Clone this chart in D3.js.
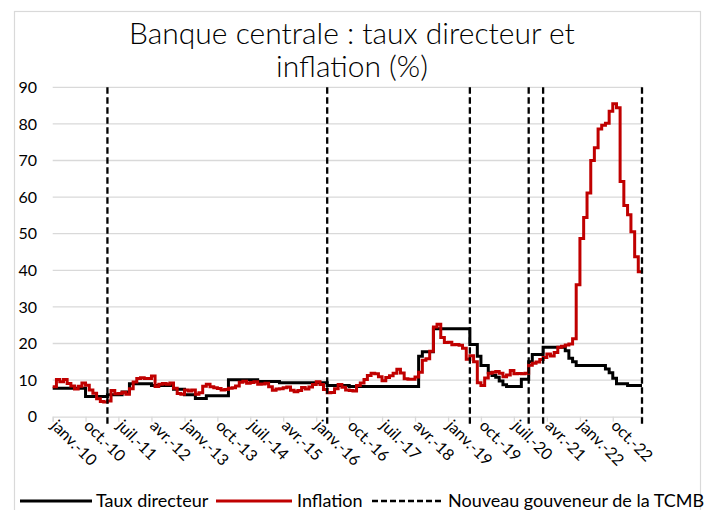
<!DOCTYPE html>
<html>
<head>
<meta charset="utf-8">
<script src="https://cdn.jsdelivr.net/npm/d3@7"></script>
<style>
  body { margin: 0; background: #fff; }
  svg { display: block; }
  text { font-family: Lato, "Open Sans", sans-serif; fill: #000; }
</style>
</head>
<body>
<div id="chart"></div>
<script>
// monthly series, first month = janv. 2010
const startYear = 2010;

// inflation (% y/y), one row per year
const inflation = [
  8.19, 10.13, 9.56, 10.19, 9.10, 8.37, 7.58, 8.33, 9.24, 8.62, 7.29, 6.40,
  4.90, 4.16, 3.99, 4.26, 7.17, 6.24, 6.31, 6.65, 6.15, 7.66, 9.48, 10.45,
  10.61, 10.43, 10.43, 11.14, 8.28, 8.87, 9.07, 8.88, 9.19, 7.80, 6.37, 6.16,
  7.31, 7.03, 7.29, 6.13, 6.51, 8.30, 8.88, 8.17, 7.88, 7.71, 7.32, 7.40,
  7.75, 7.89, 8.39, 9.38, 9.66, 9.16, 9.32, 9.54, 8.86, 8.96, 9.15, 8.17,
  7.24, 7.55, 7.61, 7.91, 8.09, 7.20, 6.81, 7.14, 7.95, 7.58, 8.10, 8.81,
  9.58, 8.78, 7.46, 6.57, 6.58, 7.64, 8.79, 8.05, 7.28, 7.16, 7.00, 8.53,
  9.22, 10.13, 11.29, 11.87, 11.72, 10.90, 9.79, 10.68, 11.20, 11.90, 12.98, 11.92,
  10.35, 10.26, 10.23, 10.85, 12.15, 15.39, 15.85, 17.90, 24.52, 25.24, 21.62, 20.30,
  20.35, 19.67, 19.71, 19.50, 18.71, 15.72, 16.65, 15.01, 9.26, 8.55, 10.56, 11.84,
  12.15, 12.37, 11.86, 10.94, 11.39, 12.62, 11.76, 11.77, 11.75, 11.89, 14.03, 14.60,
  14.97, 15.61, 16.19, 17.14, 16.59, 17.53, 18.95, 19.25, 19.58, 19.89, 21.31, 36.08,
  48.69, 54.44, 61.14, 69.97, 73.50, 78.62, 79.60, 80.21, 83.45, 85.51, 84.39, 64.27,
  57.68, 55.18, 50.51, 43.68, 39.59
];

// taux directeur (%), one row per year
const tauxDirecteur = [
  7.75, 7.75, 7.75, 7.75, 7.75, 7.75, 7.75, 7.75, 7.75, 5.5, 5.5, 5.5,
  5.5, 5.5, 5.5, 6, 6, 6, 6, 6.75, 6.75, 9, 9, 9,
  9, 9, 9, 8.5, 8.5, 8.5, 8.5, 8.5, 8.5, 7.5, 7.5, 7.5,
  6, 6, 6, 5, 5, 5, 5.75, 5.75, 5.75, 5.75, 5.75, 5.75,
  10.1, 10.1, 10.1, 10.1, 10.1, 10.1, 10.1, 10.1, 9.6, 9.6, 9.6, 9.6,
  9.6, 9.6, 9.25, 9.25, 9.25, 9.25, 9.25, 9.25, 9.25, 9.25, 9.25, 9.25,
  9.25, 9.25, 9.25, 8.5, 8.5, 8.5, 8.5, 8.5, 8.5, 8.25, 8.25, 8.25,
  8.25, 8.25, 8.25, 8.25, 8.25, 8.25, 8.25, 8.25, 8.25, 8.25, 8.25, 8.25,
  8.25, 8.25, 8.25, 8.25, 16.5, 17.75, 17.75, 17.75, 24, 24, 24, 24,
  24, 24, 24, 24, 24, 24, 19.75, 19.75, 16.5, 14, 14, 12,
  11.25, 10.75, 9.75, 8.75, 8.25, 8.25, 8.25, 8.25, 10.25, 10.25, 15, 17,
  17, 17, 19, 19, 19, 19, 19, 19, 18, 16, 15, 14,
  14, 14, 14, 14, 14, 14, 14, 13, 12, 10.5, 9, 9,
  9, 8.5, 8.5, 8.5, 8.5
];

// nouveau gouverneur de la TCMB (mois)
const gouverneurs = ['2011-04', '2016-04', '2019-07', '2020-11', '2021-03', '2023-06'];

const tickLabels = ['janv.-10', 'oct.-10', 'juil.-11', 'avr.-12', 'janv.-13', 'oct.-13',
  'juil.-14', 'avr.-15', 'janv.-16', 'oct.-16', 'juil.-17', 'avr.-18', 'janv.-19',
  'oct.-19', 'juil.-20', 'avr.-21', 'janv.-22', 'oct.-22'];
const yTicks = [0, 10, 20, 30, 40, 50, 60, 70, 80, 90];

const titleLines = ['Banque centrale : taux directeur et', 'inflation (%)'];
const legendLabels = ['Taux directeur', 'Inflation', 'Nouveau gouveneur de la TCMB'];

const width = 707, height = 510;
const month = i => new Date(Date.UTC(startYear, i, 1));
const parseMonth = s => { const [y, m] = s.split('-').map(Number); return new Date(Date.UTC(y, m - 1, 1)); };

const x = d3.scaleUtc()
    .domain([month(0), month(inflation.length)])
    .range([52.7, 642]);
const y = d3.scaleLinear()
    .domain([0, 90])
    .range([416.7, 87.3]);

const svg = d3.select('#chart').append('svg')
    .attr('width', width)
    .attr('height', height);

svg.append('rect')
    .attr('width', width).attr('height', height)
    .attr('fill', '#fff');

// chart border
svg.append('rect')
    .attr('x', 14.5).attr('y', 11.5)
    .attr('width', 686).attr('height', 540)
    .attr('fill', 'none')
    .attr('stroke', '#d9d9d9')
    .attr('stroke-width', 1.2);

// title
svg.append('text')
    .attr('text-anchor', 'middle')
    .style('font-size', '30px')
    .style('font-weight', 300)
  .selectAll('tspan')
  .data(titleLines)
  .join('tspan')
    .attr('x', 352)
    .attr('y', (d, i) => 44 + i * 33)
    .text(d => d);

// gridlines
svg.append('g')
  .selectAll('line')
  .data(yTicks.filter(d => d > 0))
  .join('line')
    .attr('x1', x.range()[0]).attr('x2', x.range()[1])
    .attr('y1', d => y(d)).attr('y2', d => y(d))
    .attr('stroke', '#d9d9d9')
    .attr('stroke-width', 1.3);

// y labels
svg.append('g')
  .selectAll('text')
  .data(yTicks)
  .join('text')
    .attr('x', 37)
    .attr('y', d => y(d))
    .attr('dy', '0.36em')
    .attr('text-anchor', 'end')
    .style('font-size', '16px')
    .text(d => d);

// x axis
const tickDates = tickLabels.map((d, i) => month(i * 9));
const xAxis = d3.axisBottom(x)
    .tickValues(tickDates)
    .tickSize(5)
    .tickFormat((d, i) => tickLabels[i]);

const gx = svg.append('g')
    .attr('transform', `translate(0,${y(0)})`)
    .call(xAxis);
gx.select('.domain').attr('stroke', '#d9d9d9').attr('stroke-width', 1.3);
gx.selectAll('.tick line').attr('stroke', '#d9d9d9').attr('stroke-width', 1.3);
gx.selectAll('.tick text')
    .attr('fill', '#000')
    .style('font-size', '16px')
    .style('font-family', 'Lato, sans-serif')
    .attr('text-anchor', 'start')
    .attr('y', 0).attr('dy', 0)
    .attr('transform', 'translate(-3,10) rotate(45)');

// series
const line = d3.line()
    .x(d => x(d.date))
    .y(d => y(d.value))
    .curve(d3.curveStepAfter);

const toSeries = values => {
  const s = values.map((v, i) => ({ date: month(i), value: v }));
  s.push({ date: month(values.length), value: values[values.length - 1] });
  return s;
};

svg.append('path')
    .datum(toSeries(tauxDirecteur))
    .attr('fill', 'none')
    .attr('stroke', '#000')
    .attr('stroke-width', 3)
    .attr('d', line);

svg.append('path')
    .datum(toSeries(inflation))
    .attr('fill', 'none')
    .attr('stroke', '#c00000')
    .attr('stroke-width', 3)
    .attr('d', line);

// governor changes
svg.append('g')
  .selectAll('line')
  .data(gouverneurs.map(parseMonth))
  .join('line')
    .attr('x1', d => x(d)).attr('x2', d => x(d))
    .attr('y1', y(90)).attr('y2', y(0) + 10)
    .attr('stroke', '#000')
    .attr('stroke-width', 2.3)
    .attr('stroke-dasharray', '6.5,3.5');

// legend
const legend = [
  { label: legendLabels[0], color: '#000', dash: null, x0: 20, x1: 92, tx: 96 },
  { label: legendLabels[1], color: '#c00000', dash: null, x0: 216, x1: 292, tx: 297 },
  { label: legendLabels[2], color: '#000', dash: '6,3', x0: 372, x1: 443, tx: 448 }
];
const lg = svg.append('g').selectAll('g').data(legend).join('g');
lg.append('line')
    .attr('x1', d => d.x0).attr('x2', d => d.x1)
    .attr('y1', 501).attr('y2', 501)
    .attr('stroke', d => d.color)
    .attr('stroke-width', d => d.dash ? 2.3 : 3)
    .attr('stroke-dasharray', d => d.dash);
lg.append('text')
    .attr('x', d => d.tx)
    .attr('y', 507)
    .style('font-size', '18px')
    .text(d => d.label);
</script>
</body>
</html>
